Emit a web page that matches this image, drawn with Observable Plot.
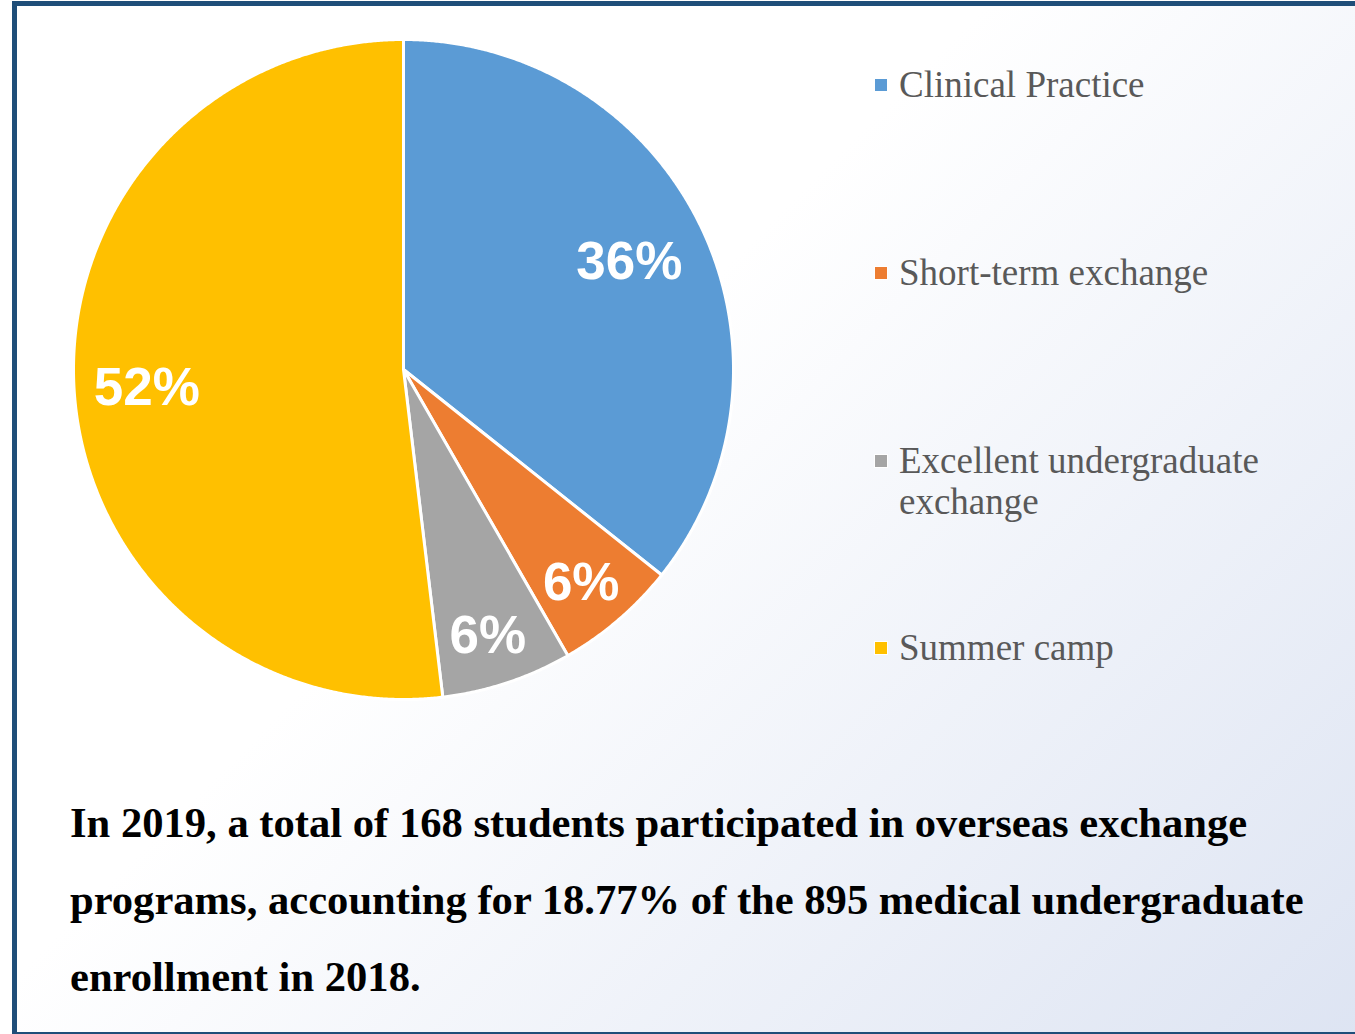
<!DOCTYPE html>
<html><head><meta charset="utf-8">
<script src="https://cdn.jsdelivr.net/npm/d3@7"></script>
<script src="https://cdn.jsdelivr.net/npm/@observablehq/plot@0.6"></script>
<style>
html,body{margin:0;padding:0;width:1355px;height:1034px;overflow:hidden;background:#fff}
#frame{position:absolute;left:12px;top:1px;width:1400px;height:1026px;border-left:5px solid #1F4E79;border-top:5px solid #1F4E79;border-bottom:2px solid #1F4E79;
  background:linear-gradient(135deg,#ffffff 0%,#ffffff 40%,#DCE3F2 100%);}
#chart{position:absolute;left:63px;top:29px;}
.leg{position:absolute;left:899px;font-family:"Liberation Serif","Times New Roman",serif;font-size:37px;line-height:41px;color:#595959;width:380px;}
.sw{position:absolute;left:-25px;top:14px;width:12px;height:12px;border:1px solid #fff;}
#caption{position:absolute;left:70px;top:784px;font-family:"Liberation Serif","Times New Roman",serif;font-weight:bold;font-size:42.6px;line-height:77px;color:#000;white-space:nowrap;}
</style></head>
<body>
<div id="frame"></div>
<div id="chart"></div>
<div id="legend"></div>
<div id="caption">In 2019, a total of 168 students participated in overseas exchange<br>programs, accounting for 18.77% of the 895 medical undergraduate<br>enrollment in 2018.</div>
<script>
const categories = ["Clinical Practice", "Short-term exchange", "Excellent undergraduate exchange", "Summer camp"];
const shares = [35.7, 6.0, 6.4, 51.9];
const colors = ["#5B9BD5", "#ED7D31", "#A5A5A5", "#FFC000"];
const legendTops = [64, 252, 440, 627];

const total = d3.sum(shares);
const arcs = d3.pie().sort(null).value(d => d)(shares);

// polygon points for each slice (unit radius, angle measured clockwise from top)
const pts = [];
arcs.forEach((a, i) => {
  const name = categories[i];
  pts.push({name, x: 0, y: 0});
  const n = Math.max(8, Math.ceil((a.endAngle - a.startAngle) / 0.005));
  for (let k = 0; k <= n; k++) {
    const t = a.startAngle + (a.endAngle - a.startAngle) * k / n;
    pts.push({name, x: Math.sin(t), y: Math.cos(t)});
  }
});

const labels = arcs.map((a, i) => {
  const mid = (a.startAngle + a.endAngle) / 2;
  const frac = shares[i] / total;
  const r = frac < 0.1 ? 0.84 : 0.77;
  return {name: categories[i], x: r * Math.sin(mid), y: r * Math.cos(mid), text: Math.round(frac * 100) + "%"};
});

const size = 680, R = 330;
const ext = (size / 2) / R;
const plot = Plot.plot({
  width: size, height: size,
  margin: 0,
  x: {domain: [-ext, ext], axis: null},
  y: {domain: [-ext, ext], axis: null},
  color: {domain: categories, range: colors},
  style: {background: "transparent", overflow: "visible"},
  marks: [
    Plot.line(pts, {x: "x", y: "y", z: "name", fill: "name", stroke: "white", strokeWidth: 3, curve: "linear-closed", strokeLinejoin: "round"}),
    Plot.text(labels, {x: "x", y: "y", text: "text", dx: -3, dy: 3, fill: "white", fontSize: 53, fontWeight: "bold", fontFamily: "Liberation Sans, Arial, sans-serif"})
  ]
});
document.getElementById("chart").appendChild(plot);

const leg = document.getElementById("legend");
categories.forEach((c, i) => {
  const d = document.createElement("div");
  d.className = "leg";
  d.style.top = legendTops[i] + "px";
  const sw = document.createElement("span");
  sw.className = "sw";
  sw.style.background = colors[i];
  d.appendChild(sw);
  d.appendChild(document.createTextNode(c));
  leg.appendChild(d);
});
</script>
</body></html>
